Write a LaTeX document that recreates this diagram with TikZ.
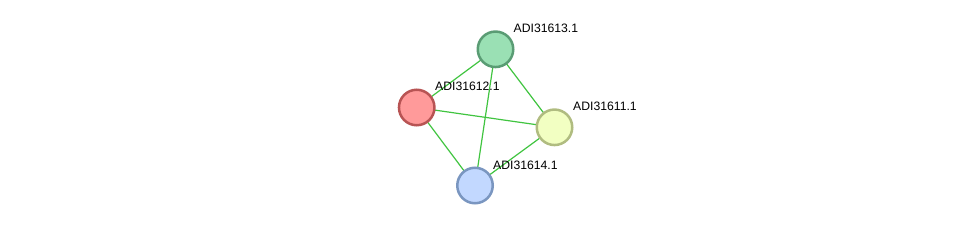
\documentclass[tikz,border=0pt]{standalone}
\usepackage{fontspec}
\setmainfont{Liberation Sans}
\begin{document}
\begin{tikzpicture}[x=1pt,y=-1pt,
  prot/.style={circle,minimum size=35.5pt,inner sep=0pt,line width=2.5pt},
  lbl/.style={anchor=west,font=\fontsize{12.2}{13}\selectfont,inner sep=0pt},
  edge/.style={draw={rgb,255:red,64;green,196;blue,64},line width=1.2pt}]
\useasboundingbox (0,0) rectangle (976,232);
\definecolor{f13}{RGB}{154,224,180}\definecolor{b13}{RGB}{90,156,116}
\definecolor{f12}{RGB}{255,154,154}\definecolor{b12}{RGB}{184,84,84}
\definecolor{f11}{RGB}{242,255,194}\definecolor{b11}{RGB}{176,188,128}
\definecolor{f14}{RGB}{194,216,255}\definecolor{b14}{RGB}{122,150,192}
\coordinate (c13) at (495.5,49.3);
\coordinate (c12) at (416.7,107.5);
\coordinate (c11) at (554.5,127.3);
\coordinate (c14) at (475,185.5);
\draw[edge] (c13) -- (c12);
\draw[edge] (c13) -- (c14);
\draw[edge] (c13) -- (c11);
\draw[edge] (c12) -- (c11);
\draw[edge] (c12) -- (c14);
\draw[edge] (c14) -- (c11);
\node[prot,fill=f13,draw=b13] (n13) at (c13) {};
\node[prot,fill=f12,draw=b12] (n12) at (c12) {};
\node[prot,fill=f11,draw=b11] (n11) at (c11) {};
\node[prot,fill=f14,draw=b14] (n14) at (c14) {};
\node[lbl] (l13) at (513.5,28.5) {ADI31613.1};
\node[lbl] (l12) at (435,86.5) {ADI31612.1};
\node[lbl] (l11) at (573,106.5) {ADI31611.1};
\node[lbl] (l14) at (493,165.5) {ADI31614.1};
\end{tikzpicture}
\end{document}
